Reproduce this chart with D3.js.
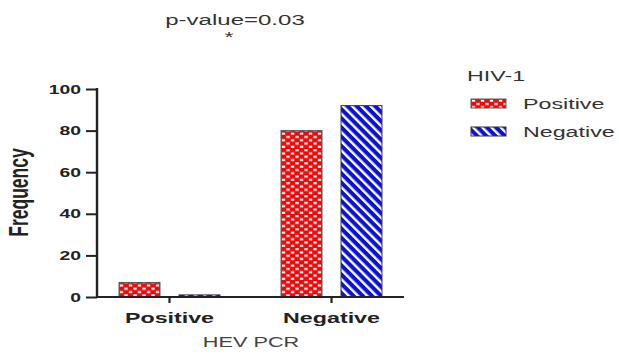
<!DOCTYPE html>
<html lang="en">
<head>
    <meta charset="UTF-8">
    <title>HEV PCR by HIV-1</title>
    <script src="https://d3js.org/d3.v7.min.js"></script>
    <style>
        body { margin: 0; background: #fff; }
        svg { font-family: "Liberation Sans", Arial, sans-serif; }
    </style>
</head>
<body>
<svg id="canvas" width="619" height="356"></svg>
<script>
    // data
    const groups = ["Positive", "Negative"];      // HEV PCR
    const series = ["Positive", "Negative"];      // HIV-1
    const hivPos = [7, 80];
    const hivNeg = [1, 92];
    const yTicks = [0, 20, 40, 60, 80, 100];

    // the source picture is stretched sideways, text too
    const SX = 1.55;

    const svg = d3.select("#canvas");

    // fills
    let defs = svg.append("defs");
    let chk = defs.append("pattern").attr("id", "checks")
        .attr("patternUnits", "userSpaceOnUse")
        .attr("width", 9).attr("height", 6.6);
    chk.append("rect").attr("width", 9).attr("height", 6.6).attr("fill", "#ee0a0a");
    chk.append("rect").attr("x", 0.8).attr("y", 0.6).attr("width", 3.4).attr("height", 2.1).attr("fill", "#fff");
    chk.append("rect").attr("x", 5.3).attr("y", 3.9).attr("width", 3.4).attr("height", 2.1).attr("fill", "#fff");

    let str = defs.append("pattern").attr("id", "stripes")
        .attr("patternUnits", "userSpaceOnUse")
        .attr("width", 6.5).attr("height", 6.5)
        .attr("patternTransform", "rotate(-45)");
    str.append("rect").attr("width", 6.5).attr("height", 6.5).attr("fill", "#0b12d0");
    str.append("rect").attr("x", 0).attr("y", 0).attr("width", 2.4).attr("height", 6.5).attr("fill", "#fff");

    const fills = ["url(#checks)", "url(#stripes)"];
    const edges = ["#555", "#334"];

    let y = d3.scaleLinear().domain([0, 100]).range([297, 89]);
    let x0 = d3.scaleBand().domain(groups).range([97, 404]).paddingInner(0.377).paddingOuter(0.136);
    let x1 = d3.scaleBand().domain(series).range([0, x0.bandwidth()]).paddingInner(0.317);

    function stretchedText(x, yPos, txt, anchor) {
        return svg.append("text")
            .attr("transform", "translate(" + x + "," + yPos + ") scale(" + SX + ",1)")
            .attr("text-anchor", anchor || "start")
            .text(txt);
    }

    // bars
    let rows = groups.map((g, i) => ({g: g, vals: [hivPos[i], hivNeg[i]]}));
    let gg = svg.append("g").selectAll("g")
        .data(rows).enter().append("g")
        .attr("transform", d => "translate(" + x0(d.g) + ",0)");
    gg.selectAll("rect")
        .data(d => d.vals.map((v, j) => ({s: series[j], v: v, j: j})))
        .enter().append("rect")
        .attr("x", d => x1(d.s))
        .attr("y", d => y(d.v))
        .attr("width", x1.bandwidth())
        .attr("height", d => y(0) - y(d.v))
        .attr("fill", d => fills[d.j])
        .attr("stroke", d => edges[d.j])
        .attr("stroke-width", 1);

    // y axis
    let yAxis = d3.axisLeft(y).tickValues(yTicks).tickSize(11).tickPadding(5);
    let ya = svg.append("g").attr("transform", "translate(97,0)").call(yAxis);
    ya.select(".domain").attr("stroke", "#222").attr("stroke-width", 2.4).attr("d", "M0,88V297");
    ya.selectAll(".tick line").attr("stroke", "#222").attr("stroke-width", 2);
    ya.selectAll(".tick text")
        .attr("x", 0)
        .attr("transform", "translate(-16,0) scale(" + SX + ",1)")
        .attr("fill", "#222")
        .style("font-weight", "bold").style("font-size", "12.5px");

    // x axis
    let xAxis = d3.axisBottom(x0).tickSize(6).tickPadding(7);
    let xa = svg.append("g").attr("transform", "translate(0,297)").call(xAxis);
    xa.select(".domain").attr("stroke", "#222").attr("stroke-width", 2.2).attr("d", "M96,0H404");
    xa.selectAll(".tick line").attr("stroke", "#222").attr("stroke-width", 2.2);
    xa.selectAll(".tick text")
        .attr("y", 0).attr("dy", 0)
        .attr("transform", "translate(0,26) scale(" + SX + ",1)")
        .attr("fill", "#222")
        .style("font-weight", "bold").style("font-size", "15px");

    // axis titles
    stretchedText(251, 347, "HEV PCR", "middle")
        .attr("fill", "#444").style("font-size", "14px");
    svg.append("text")
        .attr("transform", "translate(28,192.5) scale(" + SX + ",1) rotate(-90)")
        .attr("text-anchor", "middle")
        .attr("fill", "#222").style("font-size", "17.5px").style("font-weight", "bold")
        .text("Frequency");

    // p value
    stretchedText(235, 25, "p-value=0.03", "middle")
        .attr("fill", "#333").style("font-size", "15.5px");
    stretchedText(229, 42, "*", "middle")
        .attr("fill", "#333").style("font-size", "15px");

    // legend
    stretchedText(467, 81, "HIV-1").attr("fill", "#333").style("font-size", "15px");
    let lg = svg.append("g").selectAll("g").data(series).enter().append("g")
        .attr("transform", (d, i) => "translate(471," + (99 + i * 28) + ")");
    lg.append("rect").attr("width", 35).attr("height", 9)
        .attr("fill", (d, i) => fills[i]).attr("stroke", (d, i) => edges[i]);
    lg.append("text")
        .attr("transform", "translate(52,9.5) scale(" + SX + ",1)")
        .attr("fill", "#333")
        .style("font-size", "15px").text(d => d);
</script>
</body>
</html>
